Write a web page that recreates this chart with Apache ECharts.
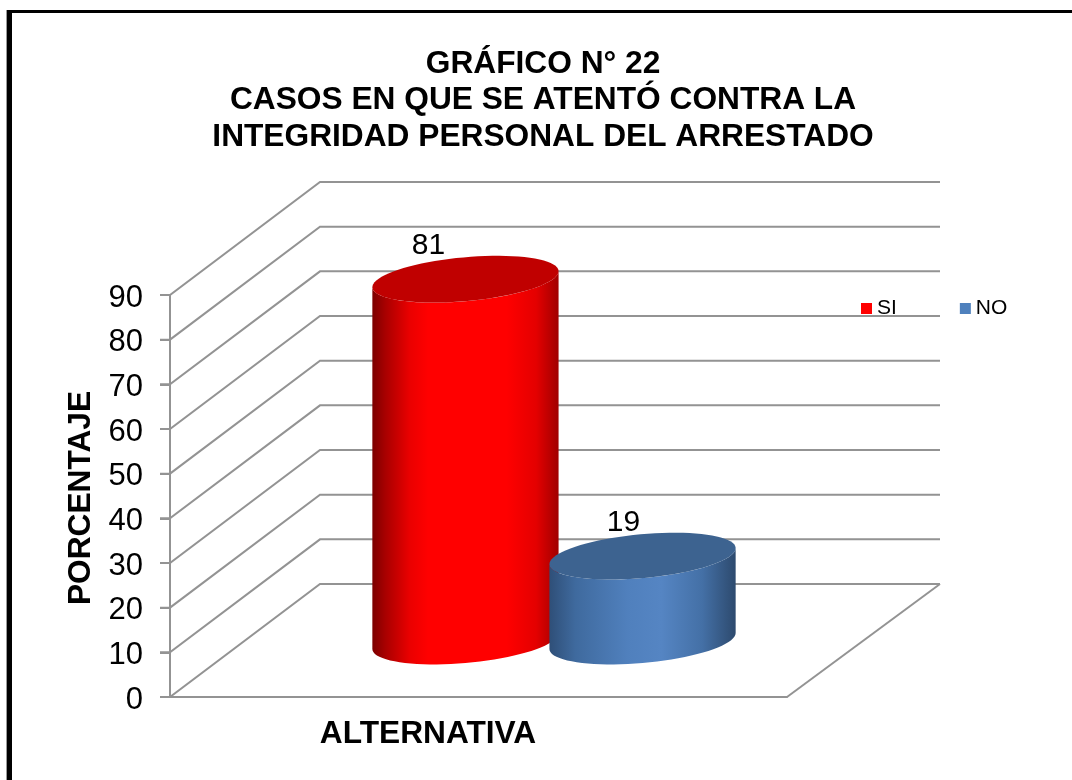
<!DOCTYPE html>
<html><head><meta charset="utf-8">
<style>html,body{margin:0;padding:0;background:#fff}#c{width:1072px;height:780px}</style>
<script src="https://cdn.jsdelivr.net/npm/echarts@6/dist/echarts.min.js"></script>
</head><body><div id="c"></div>
<script>
const titleLines = ['GRÁFICO N° 22','CASOS EN QUE SE ATENTÓ CONTRA LA','INTEGRIDAD PERSONAL DEL ARRESTADO'];
const categories = ['ALTERNATIVA'];
const seriesNames = ['SI','NO'];
const siValues = [81];
const noValues = [19];
const yTicks = [0,10,20,30,40,50,60,70,80,90];
const yAxisName = 'PORCENTAJE';

const FONT = '"Liberation Sans", Arial, sans-serif';
const GRAY = '#939393';
const depthX = 150, depthY = 113, backExtra = 3;
const midX = 75.5, midY = 56;
const tilt = 5.2 * Math.PI / 180;

function ellipsePts(cx, cy, a, b, from, to, n) {
  const pts = [];
  for (let i = 0; i <= n; i++) {
    const t = from + (to - from) * i / n;
    pts.push([
      cx + a * Math.cos(t) * Math.cos(tilt) + b * Math.sin(t) * Math.sin(tilt),
      cy - a * Math.cos(t) * Math.sin(tilt) + b * Math.sin(t) * Math.cos(tilt)
    ]);
  }
  return pts;
}

function cylinderSeries(name, values, legendColor, sideStops, topColor, shift, labelShift) {
  return {
    name, type: 'custom', coordinateSystem: 'cartesian2d', z: 5,
    itemStyle: { color: legendColor },
    data: values.map((v, i) => [i, v]),
    encode: { x: 0, y: 1 },
    renderItem(params, api) {
      const base = api.coord([api.value(0), 0]);
      const top = api.coord([api.value(0), api.value(1)]);
      const band = api.size([1, 0])[0];
      const cx = base[0] + band * shift + midX;
      const yB = base[1] - midY, yT = top[1] - midY;
      const a = band * 0.1515, b = band * 0.0355;
      const t0 = Math.atan2(b * Math.sin(tilt), a * Math.cos(tilt));
      const bottomArc = ellipsePts(cx, yB, a, b, t0, t0 + Math.PI, 40);
      const topArc = ellipsePts(cx, yT, a, b, t0 + Math.PI, t0, 40);
      return {
        type: 'group',
        children: [
          { type: 'polygon', shape: { points: bottomArc.concat(topArc) },
            style: { fill: { type: 'linear', x: 0, y: 0, x2: 1, y2: 0, colorStops: sideStops } } },
          { type: 'polygon', shape: { points: ellipsePts(cx, yT, a, b, 0, Math.PI * 2, 80) },
            style: { fill: topColor } },
          { type: 'text', x: cx + labelShift, y: yT - 33,
            style: { text: String(api.value(1)), fill: '#000', font: '30px ' + FONT,
                     textAlign: 'center', textVerticalAlign: 'middle' } }
        ]
      };
    }
  };
}

const redStops = [
  {offset:0,color:'#7c0000'},{offset:.07,color:'#a80000'},{offset:.2,color:'#ea0000'},
  {offset:.3,color:'#ff0000'},{offset:.72,color:'#ff0000'},{offset:.88,color:'#e40000'},{offset:1,color:'#a00000'}];
const blueStops = [
  {offset:0,color:'#2f4f78'},{offset:.14,color:'#3f6a9e'},{offset:.42,color:'#5080bd'},
  {offset:.6,color:'#5585c3'},{offset:.82,color:'#4470a6'},{offset:1,color:'#2d4a6e'}];

const chart = echarts.init(document.getElementById('c'), null, { renderer: 'canvas' });
chart.setOption({
  animation: false,
  backgroundColor: '#fff',
  textStyle: { fontFamily: FONT },
  title: {
    text: titleLines.join('\n'), left: 538, top: 41, textAlign: 'center',
    textStyle: { fontFamily: FONT, fontSize: 31.7, fontWeight: 'bold', color: '#000', lineHeight: 36.5 }
  },
  legend: {
    data: seriesNames, left: 856, top: 293, icon: 'rect', itemWidth: 11, itemHeight: 11,
    itemGap: 63, textStyle: { fontFamily: FONT, fontSize: 21, color: '#000', padding: [0,0,0,0] }
  },
  grid: { left: 170, top: 295, width: 617, height: 402 },
  xAxis: {
    type: 'category', data: categories,
    axisLine: { show: true, lineStyle: { color: GRAY, width: 2 } },
    axisTick: { show: false },
    axisLabel: { show: true, interval: 0, margin: 21, color: '#000', fontFamily: FONT, fontSize: 31.7,
                 fontWeight: 'bold', padding: [0,101,0,0] }
  },
  yAxis: {
    type: 'value', min: 0, max: 90, interval: 10,
    name: yAxisName, nameLocation: 'middle', nameGap: 70,
    nameTextStyle: { color: '#000', fontFamily: FONT, fontSize: 31.7, fontWeight: 'bold', padding: [0,0,0,-4] },
    axisLine: { show: true, lineStyle: { color: GRAY, width: 2 } },
    axisTick: { show: true, length: 10, lineStyle: { color: GRAY, width: 2 } },
    axisLabel: { margin: 27, color: '#000', fontFamily: FONT, fontSize: 31, verticalAlign: 'top', lineHeight: 6 },
    splitLine: { show: false }
  },
  graphic: [
    { type: 'rect', shape: { x: 6, y: 10, width: 1, height: 770 }, style: { fill: '#9a9a9a' }, z: 20 },
    { type: 'rect', shape: { x: 7, y: 10, width: 5, height: 770 }, style: { fill: '#000' }, z: 20 },
    { type: 'rect', shape: { x: 7, y: 10, width: 1065, height: 3 }, style: { fill: '#000' }, z: 20 }
  ],
  series: [
    {
      name: 'walls', type: 'custom', coordinateSystem: 'cartesian2d', z: 1, silent: true,
      data: yTicks.map(t => [0, t]), encode: { x: 0, y: 1 },
      renderItem(params, api) {
        const cs = params.coordSys;
        const y = api.coord([0, api.value(1)])[1];
        const x0 = cs.x, x1 = cs.x + depthX, x2 = cs.x + cs.width + depthX + backExtra;
        const children = [
          { type: 'polyline',
            shape: { points: [[x0 - 10, y], [x0, y], [x1, y - depthY], [x2, y - depthY]] },
            style: { stroke: GRAY, lineWidth: 2, fill: null } }
        ];
        if (api.value(1) === 0) {
          children.push({ type: 'line',
            shape: { x1: cs.x + cs.width, y1: y, x2, y2: y - depthY },
            style: { stroke: GRAY, lineWidth: 2 } });
          children.push({ type: 'line',
            shape: { x1: x0, y1: y, x2: x0, y2: cs.y },
            style: { stroke: GRAY, lineWidth: 2 } });
        }
        return { type: 'group', children };
      }
    },
    cylinderSeries(seriesNames[0], siValues, '#ff0000', redStops, '#c00000', -0.1435, -37),
    cylinderSeries(seriesNames[1], noValues, '#4f81bd', blueStops, '#3d6390', 0.1435, -19)
  ]
});
</script></body></html>
